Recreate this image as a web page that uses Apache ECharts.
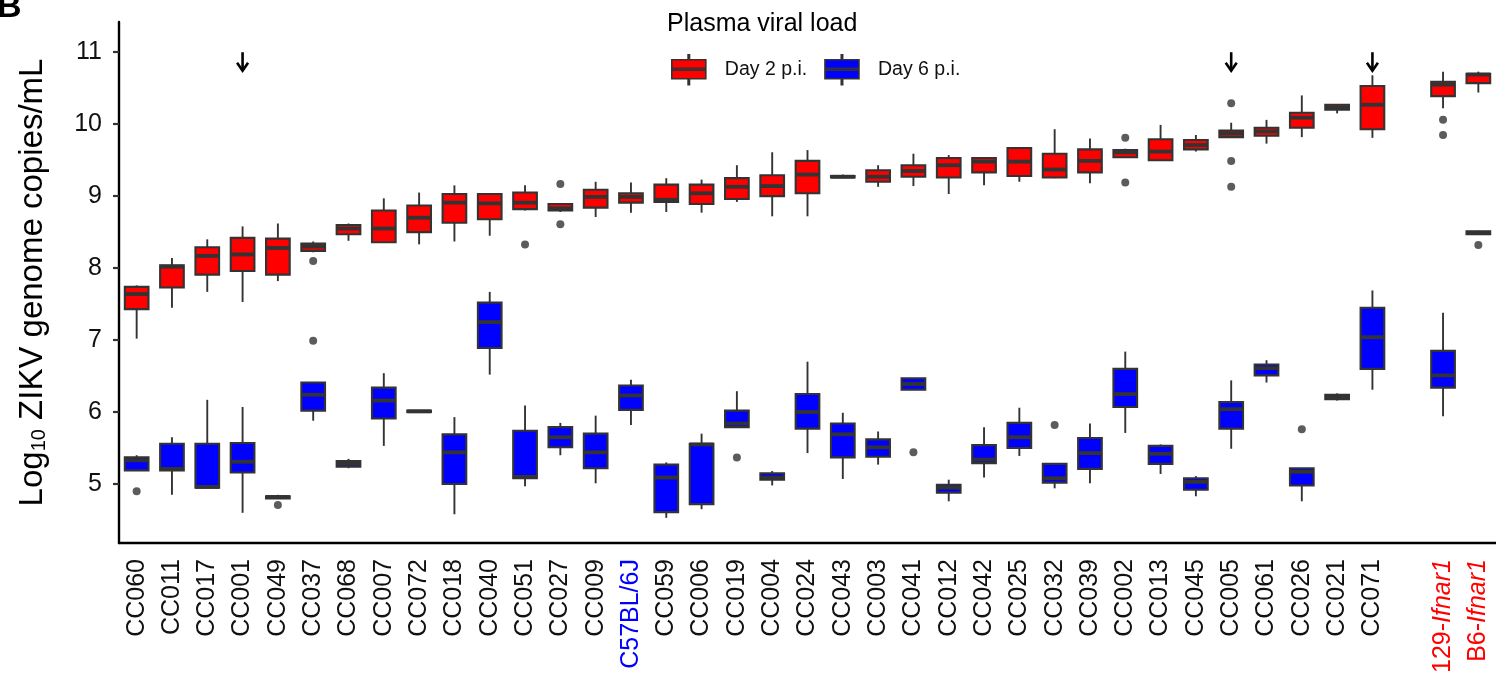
<!DOCTYPE html>
<html>
<head>
<meta charset="utf-8">
<script src="https://cdn.jsdelivr.net/npm/echarts@6/dist/echarts.min.js"></script>
<style>
html,body{margin:0;padding:0;background:#fff;}
#chart{width:1496px;height:676px;}
</style>
</head>
<body>
<div id="chart"></div>
<script>
// ---------- DATA ----------
const categories = ['CC060','CC011','CC017','CC001','CC049','CC037','CC068','CC007','CC072','CC018',
  'CC040','CC051','CC027','CC009','C57BL/6J','CC059','CC006','CC019','CC004','CC024',
  'CC043','CC003','CC041','CC012','CC042','CC025','CC032','CC039','CC002','CC013',
  'CC045','CC005','CC061','CC026','CC021','CC071','','129-Ifnar1','B6-Ifnar1'];

// [min, Q1, median, Q3, max]
const day2Boxes = [
  [7.02,7.43,7.64,7.74,7.76],[7.45,7.73,8.02,8.04,8.14],[7.67,7.91,8.17,8.29,8.40],[7.53,7.96,8.19,8.42,8.58],
  [7.82,7.91,8.28,8.41,8.62],[8.22,8.24,8.30,8.34,8.37],[8.38,8.47,8.55,8.60,8.62],[8.35,8.36,8.55,8.80,8.97],
  [8.33,8.50,8.70,8.87,9.05],[8.37,8.63,8.91,9.03,9.15],[8.45,8.68,8.90,9.03,9.04],[8.80,8.82,8.91,9.05,9.15],
  [8.78,8.80,8.83,8.89,8.90],[8.71,8.84,8.99,9.09,9.20],[8.77,8.91,8.99,9.04,9.19],[8.78,8.92,8.95,9.16,9.25],
  [8.77,8.89,9.04,9.16,9.23],[8.92,8.96,9.13,9.25,9.43],[8.72,9.00,9.14,9.29,9.61],[8.72,9.04,9.30,9.49,9.64],
  [9.26,9.26,9.27,9.28,9.30],[9.13,9.20,9.27,9.36,9.43],[9.14,9.27,9.35,9.43,9.59],[9.03,9.26,9.43,9.53,9.57],
  [9.15,9.33,9.48,9.53,9.54],[9.20,9.28,9.48,9.67,9.68],[9.25,9.26,9.37,9.59,9.93],[9.18,9.33,9.49,9.65,9.80],
  [9.53,9.54,9.61,9.64,9.66],[9.49,9.50,9.62,9.79,9.99],[9.62,9.65,9.71,9.78,9.85],[9.81,9.82,9.87,9.91,10.02],
  [9.73,9.84,9.90,9.95,10.06],[9.82,9.95,10.09,10.16,10.40],[10.15,10.20,10.23,10.27,10.28],[9.81,9.93,10.27,10.53,10.68],
  null,[10.22,10.39,10.55,10.59,10.73],[10.44,10.57,10.69,10.70,10.73]
];
const day6Boxes = [
  [5.19,5.19,5.33,5.37,5.40],[4.85,5.19,5.21,5.56,5.65],[4.95,4.95,4.96,5.56,6.17],[4.60,5.16,5.31,5.57,6.07],
  [4.80,4.80,4.82,4.83,4.85],[5.88,6.02,6.24,6.41,6.41],[5.22,5.24,5.28,5.32,5.35],[5.53,5.91,6.16,6.34,6.54],
  [6.00,6.00,6.01,6.02,6.02],[4.58,5.00,5.44,5.69,5.93],[6.52,6.89,7.25,7.52,7.67],[4.97,5.08,5.10,5.74,6.09],
  [5.40,5.51,5.65,5.79,5.85],[5.01,5.22,5.44,5.70,5.95],[5.82,6.03,6.23,6.37,6.45],[4.53,4.61,5.09,5.27,5.30],
  [4.65,4.72,5.55,5.56,5.70],[5.79,5.79,5.84,6.02,6.29],[4.98,5.06,5.09,5.15,5.18],[5.43,5.77,6.00,6.25,6.70],
  [5.07,5.37,5.69,5.84,5.99],[5.27,5.38,5.51,5.62,5.73],[6.31,6.31,6.39,6.47,6.47],[4.76,4.88,4.95,4.99,5.06],
  [5.09,5.29,5.34,5.54,5.79],[5.39,5.50,5.65,5.85,6.06],[4.94,5.02,5.08,5.28,5.28],[5.01,5.21,5.43,5.64,5.84],
  [5.71,6.07,6.25,6.60,6.84],[5.14,5.28,5.42,5.53,5.55],[4.83,4.92,5.03,5.08,5.11],[5.49,5.77,6.04,6.14,6.44],
  [6.41,6.51,6.61,6.66,6.72],[4.76,4.98,5.17,5.22,5.22],[6.16,6.18,6.21,6.24,6.26],[6.31,6.60,7.04,7.45,7.69],
  null,[5.94,6.34,6.51,6.85,7.38],[8.46,8.47,8.49,8.51,8.52]
];
// outliers: [category, value]
const day2Outliers = [['CC037',8.10],['CC051',8.33],['CC027',9.17],['CC027',8.61],['CC002',9.81],['CC002',9.19],
  ['CC005',10.29],['CC005',9.49],['CC005',9.13],['129-Ifnar1',10.06],['129-Ifnar1',9.85]];
const day6Outliers = [['CC060',4.90],['CC049',4.71],['CC037',6.99],['CC019',5.37],['CC041',5.44],['CC032',5.82],
  ['CC026',5.76],['B6-Ifnar1',8.32]];
// arrows: [category, tip value, top value]
const arrowMarks = [['CC001',10.73,11.0],['CC005',10.73,11.0],['CC071',10.73,11.0]];
const yTickValues = [5,6,7,8,9,10,11];

// ---------- BUILD ----------
const FONT = "'Liberation Sans', Arial, sans-serif";
function toRows(boxes){
  const rows = [];
  boxes.forEach((b,i)=>{ if(b) rows.push([i].concat(b)); });
  return rows;
}
function renderBox(params, api){
  const x = api.value(0);
  const pMin = api.coord([x, api.value(1)]);
  const pQ1 = api.coord([x, api.value(2)]);
  const pMed = api.coord([x, api.value(3)]);
  const pQ3 = api.coord([x, api.value(4)]);
  const pMax = api.coord([x, api.value(5)]);
  const band = api.size([1,0])[0];
  const w = band*0.67;
  const cx = pMed[0];
  const col = api.visual('color');
  return {type:'group', children:[
    {type:'line', shape:{x1:cx,y1:pMax[1],x2:cx,y2:pQ3[1]}, style:{stroke:'#333',lineWidth:1.9}},
    {type:'line', shape:{x1:cx,y1:pQ1[1],x2:cx,y2:pMin[1]}, style:{stroke:'#333',lineWidth:1.9}},
    {type:'rect', shape:{x:cx-w/2,y:pQ3[1],width:w,height:Math.max(pQ1[1]-pQ3[1],0.5)}, style:{fill:col,stroke:'#333',lineWidth:2.1}},
    {type:'line', shape:{x1:cx-w/2,y1:pMed[1],x2:cx+w/2,y2:pMed[1]}, style:{stroke:'#333',lineWidth:3.8}}
  ]};
}
function renderArrow(params, api){
  const tip = api.coord([api.value(0), api.value(1)]);
  const top = api.coord([api.value(0), api.value(2)]);
  const cx = tip[0];
  return {type:'group', children:[
    {type:'line', shape:{x1:cx,y1:top[1],x2:cx,y2:tip[1]-1}, style:{stroke:'#000',lineWidth:2.6}},
    {type:'polyline', shape:{points:[[cx-5.5,tip[1]-9],[cx,tip[1]-1],[cx+5.5,tip[1]-9]]}, style:{stroke:'#000',lineWidth:2.6,fill:null}}
  ]};
}
const legendIcon = 'path://M0,5H34V24H0Z M0,13.6H34V15.4H0Z M16.3,0H17.7V5H16.3Z M16.3,24H17.7V30H16.3Z';

const chart = echarts.init(document.getElementById('chart'));
chart.setOption({
  animation:false,
  backgroundColor:'#fff',
  title:{text:'Plasma viral load', left:662, top:7, textStyle:{fontFamily:FONT,fontSize:25,fontWeight:'normal',color:'#000'}},
  legend:{
    left:666, top:49, itemWidth:34, itemHeight:30, itemGap:17,
    data:[{name:'Day 2 p.i.',icon:legendIcon},{name:'Day 6 p.i.',icon:legendIcon}],
    itemStyle:{borderColor:'#333',borderWidth:1.6},
    textStyle:{fontFamily:FONT,fontSize:19.5,color:'#111',padding:[0,0,0,14]}
  },
  graphic:[{type:'text', left:-3, top:-9, style:{text:'B', font:"bold 34px 'Liberation Sans', Arial, sans-serif", fill:'#000'}}],
  grid:{left:119, right:0, top:22, bottom:131, containLabel:false},
  xAxis:{
    type:'category', data:categories,
    axisLine:{lineStyle:{color:'#000',width:2.4}},
    axisTick:{alignWithLabel:true, length:6, lineStyle:{color:'#333',width:2.2},
      interval:function(i,v){ return v !== ''; }},
    axisLabel:{interval:0, rotate:90, fontFamily:FONT, fontSize:25, color:'#111', margin:16,
      formatter:function(v){
        if(v==='C57BL/6J') return '{b|C57BL/6J}';
        if(v==='129-Ifnar1') return '{r|129-}{ri|Ifnar1}';
        if(v==='B6-Ifnar1') return '{r|B6-}{ri|Ifnar1}';
        return v;
      },
      rich:{
        b:{color:'#0000ff',fontFamily:FONT,fontSize:25},
        r:{color:'#ff0000',fontFamily:FONT,fontSize:25},
        ri:{color:'#ff0000',fontFamily:FONT,fontSize:25,fontStyle:'italic'}
      }
    },
    splitLine:{show:false}
  },
  yAxis:{
    type:'value', min:4.18, max:11.42,
    name:'{a|Log}{s|10}{a| ZIKV genome copies/mL}',
    nameLocation:'middle', nameRotate:90, nameGap:70,
    nameTextStyle:{rich:{
      a:{fontFamily:FONT,fontSize:33,color:'#000'},
      s:{fontFamily:FONT,fontSize:20,color:'#000',verticalAlign:'bottom'}
    }},
    axisLine:{show:true, lineStyle:{color:'#000',width:2.4}},
    axisTick:{show:true, length:6, lineStyle:{color:'#333',width:2.2}, customValues:yTickValues},
    axisLabel:{fontFamily:FONT, fontSize:25, color:'#111', margin:17, customValues:yTickValues},
    splitLine:{show:false}
  },
  series:[
    {name:'Day 2 p.i.', type:'custom', renderItem:renderBox, itemStyle:{color:'#ff0000'},
     encode:{x:0,y:[1,2,3,4,5]}, data:toRows(day2Boxes), z:2},
    {name:'Day 6 p.i.', type:'custom', renderItem:renderBox, itemStyle:{color:'#0000ff'},
     encode:{x:0,y:[1,2,3,4,5]}, data:toRows(day6Boxes), z:2},
    {name:'Day 2 outliers', type:'scatter', symbolSize:8, itemStyle:{color:'#333'}, data:day2Outliers, z:3},
    {name:'Day 6 outliers', type:'scatter', symbolSize:8, itemStyle:{color:'#333'}, data:day6Outliers, z:3},
    {name:'arrows', type:'custom', renderItem:renderArrow, encode:{x:0,y:[1,2]}, data:arrowMarks, z:4}
  ]
});
</script>
</body>
</html>
